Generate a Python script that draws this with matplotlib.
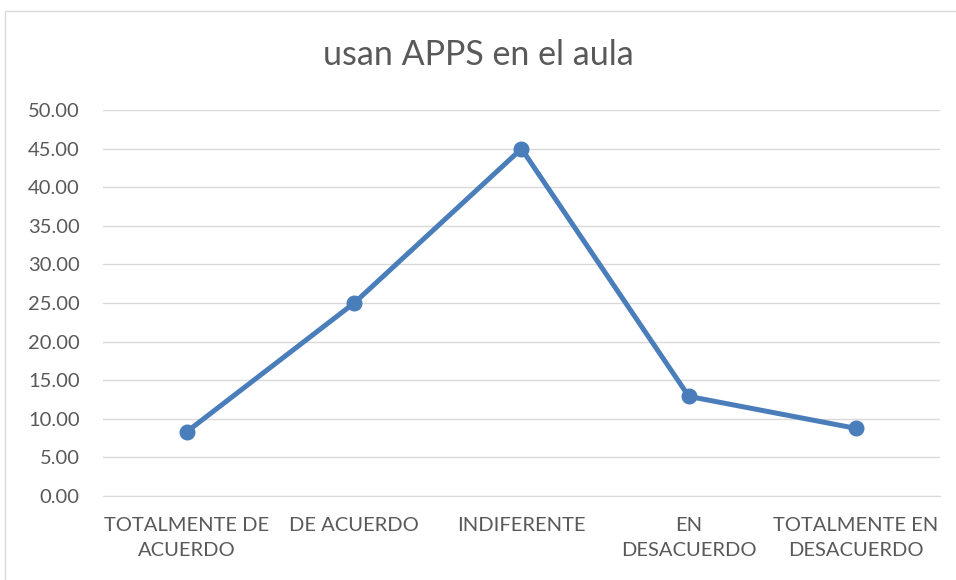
import matplotlib.pyplot as plt
from matplotlib.patches import Rectangle

# Data
categories = ['TOTALMENTE DE\nACUERDO', 'DE ACUERDO', 'INDIFERENTE',
              'EN\nDESACUERDO', 'TOTALMENTE EN\nDESACUERDO']
values = [8.33, 25.0, 45.0, 12.9, 8.75]
yticks = [0, 5, 10, 15, 20, 25, 30, 35, 40, 45, 50]

plt.rcParams['font.family'] = ['Lato', 'DejaVu Sans']
text_color = '#595959'

fig = plt.figure(figsize=(9.56, 5.8), dpi=100)
ax = fig.add_axes([0.108, 0.145, 0.875, 0.665])

x = list(range(len(categories)))
ax.plot(x, values, color='#4a7ebb', linewidth=3.6, marker='o', markersize=10.5)

ax.set_xlim(-0.5, len(categories) - 0.5)
ax.set_ylim(0, 50)
ax.set_yticks(yticks)
ax.set_yticklabels([f'{v:.2f}' for v in yticks], color=text_color, fontsize=14.5)
ax.set_xticks(x)
ax.set_xticklabels(categories, color=text_color, fontsize=14.5, linespacing=1.6)
ax.yaxis.grid(True, color='#d9d9d9', linewidth=1)
ax.set_axisbelow(True)
ax.tick_params(axis='y', length=0, pad=17)
ax.tick_params(axis='x', length=0, pad=15)
for s in ['top', 'right', 'left']:
    ax.spines[s].set_visible(False)
ax.spines['bottom'].set_color('#d9d9d9')

fig.text(0.5, 0.905, 'usan APPS en el aula', ha='center', va='center',
         fontsize=24.5, color=text_color)

# Chart area border
fig.patches.append(Rectangle((5 / 956, -0.01), 1.0, 1 - 11 / 580 + 0.01,
                             transform=fig.transFigure, fill=False,
                             edgecolor='#d9d9d9', linewidth=1))

plt.savefig('out.png', dpi=100)
